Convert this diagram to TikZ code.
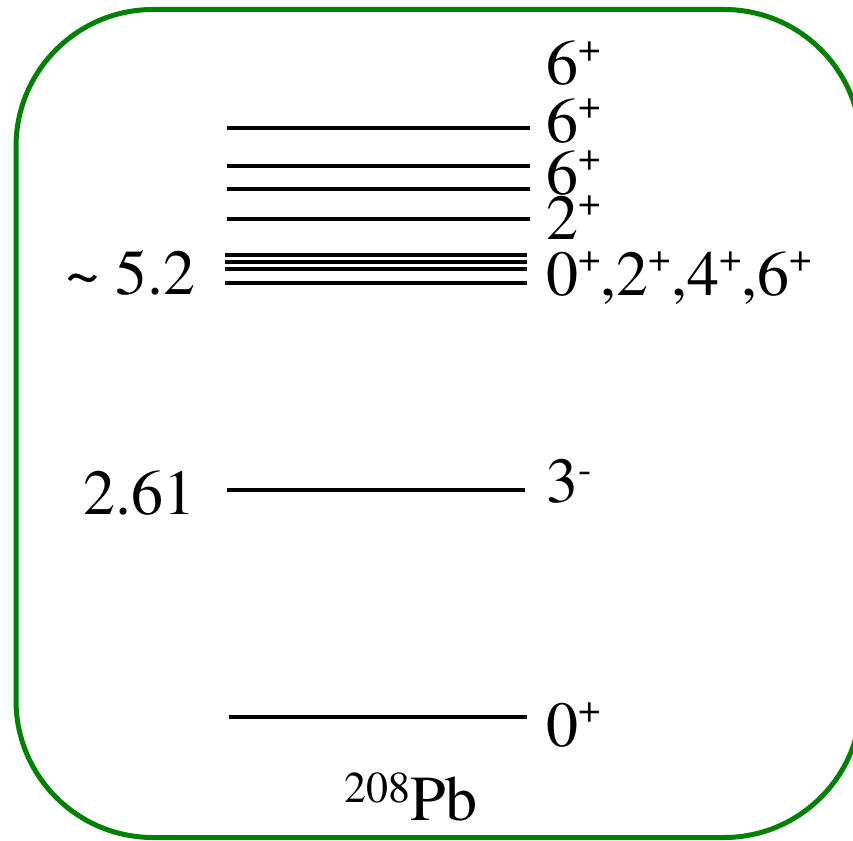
\documentclass[tikz,border=0pt]{standalone}
\usepackage{fontspec}
\setmainfont{TeX Gyre Termes}
\definecolor{boxgreen}{RGB}{0,128,0}
\newcommand\plussup{\raisebox{24pt}{\fontsize{40}{40}\selectfont +}}
\newcommand\minussup{\raisebox{20pt}{\fontsize{40}{40}\selectfont -}}
\begin{document}
\begin{tikzpicture}[x=1pt,y=-1pt,
  level/.style={line width=3.8pt},
  lbl/.style={inner sep=0pt,font=\fontsize{64}{64}\selectfont}]
\useasboundingbox (0,0) rectangle (853,840);
\clip (0,0) rectangle (853,840);
\draw[boxgreen,line width=5pt,rounded corners=137pt] (16,9.5) rectangle (861,837.5);
% levels
\draw[level] (227,128) -- (530,128);
\draw[level] (227,166) -- (530,166);
\draw[level] (227,189) -- (530,189);
\draw[level] (227,219) -- (530,219);
\draw[level] (225,255) -- (527,255);
\draw[level] (225,262) -- (527,262);
\draw[level] (225,269.3) -- (527,269.3);
\draw[level] (225,282.7) -- (527,282.7);
\draw[level] (227,490) -- (525,490);
\draw[level] (229,717) -- (527,717);
% spin labels
\node[lbl,anchor=base west] (s1) at (546,85) {6\plussup};
\node[lbl,anchor=base west] (s2) at (546,142) {6\plussup};
\node[lbl,anchor=base west] (s3) at (546,194) {6\plussup};
\node[lbl,anchor=base west] (s4) at (546,239) {2\plussup};
\node[lbl,anchor=base west] (s5) at (546,295) {0\plussup,2\plussup,4\plussup,6\plussup};
\node[lbl,anchor=base west] (s6) at (546,502) {3\minussup};
\node[lbl,anchor=base west] (s7) at (546,746) {0\plussup};
% energy labels
\node[lbl,anchor=base east] (e1) at (196,294) {\char"007E{} 5.2};
\node[lbl,anchor=base east] (e2) at (196,514) {2.61};
% nucleus
\node[lbl,anchor=base west] (nuc) at (344,820) {\raisebox{18pt}{\fontsize{44}{44}\selectfont 208}Pb};
\end{tikzpicture}
\end{document}
